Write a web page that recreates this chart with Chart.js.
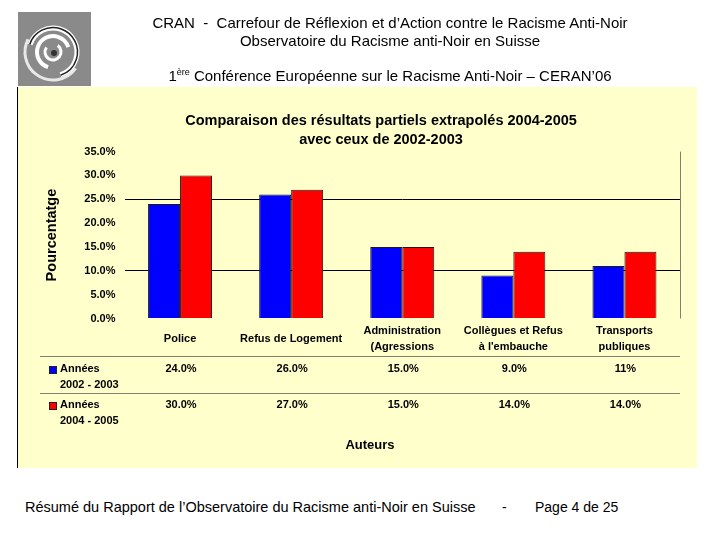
<!DOCTYPE html>
<html>
<head>
<meta charset="utf-8">
<script src="https://cdn.jsdelivr.net/npm/chart.js@4.4.1/dist/chart.umd.min.js"></script>
<style>
  html, body { margin: 0; padding: 0; background: #ffffff; }
  body { width: 720px; height: 540px; position: relative; overflow: hidden; font-family: "Liberation Sans", Arial, sans-serif; }
  .hdr { position: absolute; left: 0; width: 780px; text-align: center; font-size: 15px; color: #000; line-height: 16px; white-space: pre; }
  #logo { position: absolute; left: 18px; top: 12px; }
  #wrap { position: absolute; left: 17px; top: 87px; width: 680px; height: 381px; }
  .ftr { position: absolute; top: 499px; font-size: 14px; color: #000; line-height: 16px; white-space: pre; }
</style>
</head>
<body>
<canvas id="logo" width="73" height="74"></canvas>
<div class="hdr" style="top:15px;">CRAN  -  Carrefour de Réflexion et d’Action contre le Racisme Anti-Noir</div>
<div class="hdr" style="top:33px;">Observatoire du Racisme anti-Noir en Suisse</div>
<div class="hdr" style="top:68px;">1<sup style="font-size:9px;line-height:0;">ère</sup> Conférence Européenne sur le Racisme Anti-Noir – CERAN’06</div>
<div id="wrap"><canvas id="chart"></canvas></div>
<div class="ftr" style="left:25px;font-size:14.5px;">Résumé du Rapport de l’Observatoire du Racisme anti-Noir en Suisse</div>
<div class="ftr" style="left:502px;">-</div>
<div class="ftr" style="left:535px;">Page 4 de 25</div>
<script>
// ---- Data ----
const categories = [
  ["Police"],
  ["Refus de Logement"],
  ["Administration", "(Agressions"],
  ["Collègues et Refus", "à l'embauche"],
  ["Transports", "publiques"]
];
const seriesNames = [["Années", "2002 - 2003"], ["Années", "2004 - 2005"]];
const values2002 = [24, 26, 15, 9, 11];
const values2004 = [30, 27, 15, 14, 14];
const tableLabels2002 = ["24.0%", "26.0%", "15.0%", "9.0%", "11%"];
const tableLabels2004 = ["30.0%", "27.0%", "15.0%", "14.0%", "14.0%"];
const yTicks = [0, 5, 10, 15, 20, 25, 30, 35];
const gridValues = [10, 25];

const FONT = '"Liberation Sans", Arial, sans-serif';
const BLUE = '#0000ff', RED = '#ff0000';

// ---- Logo (decoration) ----
(function () {
  const c = document.getElementById('logo').getContext('2d');
  c.fillStyle = '#8a8a8a';
  c.fillRect(0, 0, 73, 74);
  const cx = 35, cy = 40;
  function arc(r, a0, a1, w, col) {
    c.beginPath(); c.arc(cx, cy, r, a0, a1); c.lineWidth = w; c.strokeStyle = col; c.stroke();
  }
  arc(28, 0.2 * Math.PI, 1.15 * Math.PI, 3, '#e8e8e8');
  arc(24, -0.9 * Math.PI, 0.4 * Math.PI, 5, '#ffffff');
  arc(24.5, -0.9 * Math.PI, 0.4 * Math.PI, 1.5, '#222');
  arc(16, 0.6 * Math.PI, 1.9 * Math.PI, 4, '#ffffff');
  arc(8, -0.3 * Math.PI, 1.2 * Math.PI, 3, '#ffffff');
  c.beginPath(); c.arc(cx + 1, cy + 1, 3, 0, 2 * Math.PI); c.fillStyle = '#333'; c.fill();
})();

// ---- Chart ----
const decorPlugin = {
  id: 'decor',
  beforeDraw(chart) {
    const ctx = chart.ctx;
    ctx.save();
    ctx.fillStyle = '#ffffcc';
    ctx.fillRect(0, 0, chart.width, chart.height);
    ctx.strokeStyle = '#000';
    ctx.lineWidth = 1;
    ctx.beginPath(); ctx.moveTo(0.5, 0); ctx.lineTo(0.5, chart.height); ctx.stroke();
    ctx.restore();
  },
  afterDraw(chart) {
    const ctx = chart.ctx;
    const xs = chart.scales.x;
    const area = chart.chartArea;
    ctx.save();
    // right vertical line
    ctx.strokeStyle = '#808070';
    ctx.lineWidth = 1;
    ctx.beginPath(); ctx.moveTo(Math.round(area.right) + 0.5, area.top); ctx.lineTo(Math.round(area.right) + 0.5, area.bottom); ctx.stroke();
    // title
    ctx.fillStyle = '#000';
    ctx.textAlign = 'center';
    ctx.textBaseline = 'middle';
    ctx.font = 'bold 14.5px ' + FONT;
    ctx.fillText('Comparaison des résultats partiels extrapolés 2004-2005', 364, 34);
    ctx.fillText('avec ceux de 2002-2003', 364, 53);
    // table lines
    ctx.strokeStyle = '#808070';
    [269.5, 306.5].forEach(y => {
      ctx.beginPath(); ctx.moveTo(23, y); ctx.lineTo(area.right, y); ctx.stroke();
    });
    // legend rows
    const rows = [
      { color: BLUE, names: seriesNames[0], labels: tableLabels2002, y: 282 },
      { color: RED, names: seriesNames[1], labels: tableLabels2004, y: 318 }
    ];
    ctx.font = 'bold 11px ' + FONT;
    rows.forEach(r => {
      ctx.fillStyle = r.color;
      ctx.fillRect(32, r.y - 3, 8, 8);
      ctx.strokeStyle = '#202020';
      ctx.strokeRect(32.5, r.y - 2.5, 7, 7);
      ctx.fillStyle = '#000';
      ctx.textAlign = 'left';
      ctx.fillText(r.names[0], 43, r.y);
      ctx.fillText(r.names[1], 43, r.y + 16);
      ctx.textAlign = 'center';
      r.labels.forEach((t, i) => ctx.fillText(t, xs.getPixelForValue(i) + 1, r.y));
    });
    // axis title
    ctx.font = 'bold 13px ' + FONT;
    ctx.fillText('Auteurs', 353, 358);
    ctx.restore();
  }
};

new Chart(document.getElementById('chart'), {
  type: 'bar',
  data: {
    labels: categories,
    datasets: [
      { label: seriesNames[0].join(' '), data: values2002, backgroundColor: BLUE, borderColor: '#1a1a1a', borderWidth: 1 },
      { label: seriesNames[1].join(' '), data: values2004, backgroundColor: RED, borderColor: '#1a1a1a', borderWidth: 1 }
    ]
  },
  options: {
    responsive: true,
    maintainAspectRatio: false,
    animation: false,
    devicePixelRatio: 1,
    layout: { padding: { left: 26, top: 64.6, right: 17, bottom: 0 } },
    plugins: { legend: { display: false }, title: { display: false }, tooltip: { enabled: false } },
    datasets: { bar: { categoryPercentage: 0.576, barPercentage: 1.0 } },
    scales: {
      x: {
        grid: { display: false, drawTicks: false },
        border: { display: false },
        ticks: {
          color: '#000',
          font: { family: FONT, size: 11, weight: 'bold', lineHeight: 1.5 },
          crossAlign: 'center',
          padding: 12,
          maxRotation: 0,
          autoSkip: false
        },
        afterFit(scale) { scale.height = 149.5; }
      },
      y: {
        min: 0, max: 35,
        afterBuildTicks(scale) { scale.ticks = yTicks.map(v => ({ value: v })); },
        grid: {
          drawTicks: false,
          color: ctx => gridValues.includes(ctx.tick && ctx.tick.value) ? '#000' : 'rgba(0,0,0,0)',
          lineWidth: 1
        },
        border: { display: false },
        ticks: {
          color: '#000',
          padding: 9,
          font: { family: FONT, size: 11, weight: 'bold' },
          callback: v => v.toFixed(1) + '%'
        },
        title: {
          display: true,
          text: 'Pourcentatge',
          color: '#000',
          padding: 0,
          font: { family: FONT, size: 14.5, weight: 'bold' }
        },
        afterFit(scale) { scale.width = 81.5; }
      }
    }
  },
  plugins: [decorPlugin]
});
</script>
</body>
</html>
